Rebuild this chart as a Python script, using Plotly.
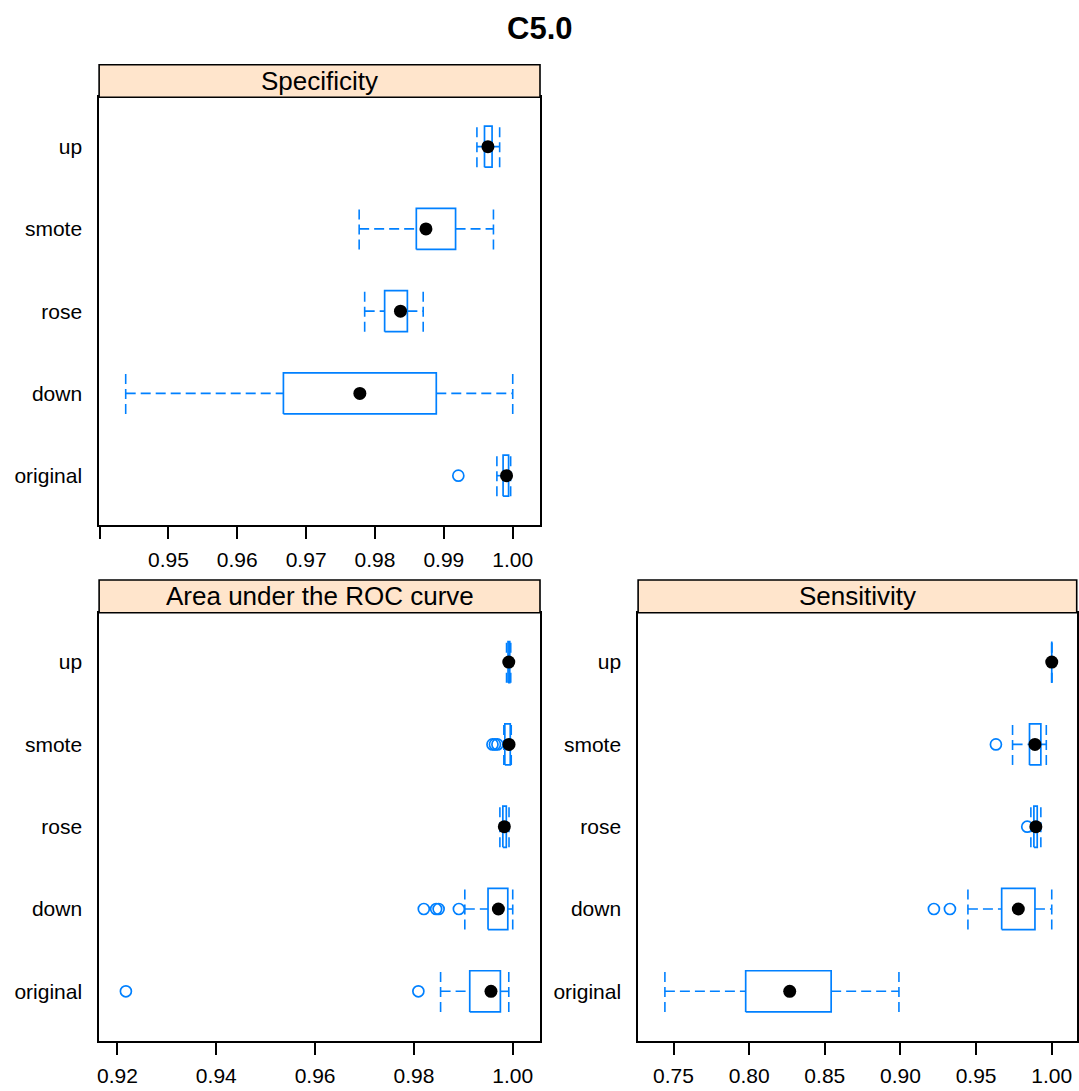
import plotly.graph_objects as go

# Resampling methods compared for the C5.0 model
methods = ["original", "down", "rose", "smote", "up"]

# Specificity: whisker ends, hinges, medians, outliers
spec_lo = [0.9977, 0.9438, 0.9785, 0.9777, 0.9948]
spec_q1 = [0.9986, 0.9667, 0.9814, 0.9860, 0.9959]
spec_med = [0.9991, 0.9778, 0.9837, 0.9874, 0.9964]
spec_q3 = [0.9994, 0.9889, 0.9847, 0.9917, 0.9970]
spec_hi = [0.9997, 1.0000, 0.9870, 0.9972, 0.9981]
spec_out = [[0.9921], [], [], [], []]

# Area under the ROC curve
roc_lo = [0.9854, 0.9903, 0.9974, 0.9982, 0.99875]
roc_q1 = [0.9913, 0.9950, 0.9980, 0.9984, 0.99905]
roc_med = [0.9956, 0.9971, 0.9983, 0.99925, 0.9992]
roc_q3 = [0.9975, 0.9990, 0.9987, 0.9995, 0.9994]
roc_hi = [0.9992, 1.0000, 0.99925, 0.9997, 0.9996]
roc_out = [[0.9217, 0.9809], [0.9820, 0.9845, 0.9850, 0.9891], [], [0.9959, 0.9964, 0.9969], []]

# Sensitivity
sens_lo = [0.7443, 0.9446, 0.9862, 0.9741, 1.0]
sens_q1 = [0.7977, 0.9669, 0.9882, 0.9853, 1.0]
sens_med = [0.8268, 0.9779, 0.9895, 0.9889, 1.0]
sens_q3 = [0.8542, 0.9889, 0.9904, 0.9928, 1.0]
sens_hi = [0.8990, 1.0000, 0.9928, 0.9964, 1.0]
sens_out = [[], [0.9221, 0.9327], [0.9838], [0.9631], []]

spec_ticks = [0.94, 0.95, 0.96, 0.97, 0.98, 0.99, 1.00]
spec_ticktext = ["", "0.95", "0.96", "0.97", "0.98", "0.99", "1.00"]
roc_ticks = [0.92, 0.94, 0.96, 0.98, 1.00]
roc_ticktext = ["0.92", "0.94", "0.96", "0.98", "1.00"]
sens_ticks = [0.75, 0.80, 0.85, 0.90, 0.95, 1.00]
sens_ticktext = ["0.75", "0.80", "0.85", "0.90", "0.95", "1.00"]

W, H = 1079, 1091
FONT = "Liberation Sans, Arial, Helvetica, sans-serif"
BLUE = "#0080ff"
HALF = 0.25  # half box height in category units


def px_x(v):
    return v / W


def px_y(v):
    return 1 - v / H


fig = go.Figure()


def add_panel(n, lo, q1, med, q3, hi, out):
    xa = "x" if n == 1 else f"x{n}"
    ya = "y" if n == 1 else f"y{n}"
    pos = list(range(1, len(methods) + 1))
    wx, wy, bx, by = [], [], [], []
    ox, oy = [], []
    for i, y in enumerate(pos):
        # whiskers and their end caps
        wx += [lo[i], q1[i], None, q3[i], hi[i], None,
               lo[i], lo[i], None, hi[i], hi[i], None]
        wy += [y, y, None, y, y, None,
               y - HALF, y + HALF, None, y - HALF, y + HALF, None]
        # box between the hinges
        bx += [q1[i], q3[i], q3[i], q1[i], q1[i], None]
        by += [y - HALF, y - HALF, y + HALF, y + HALF, y - HALF, None]
        for v in out[i]:
            ox.append(v)
            oy.append(y)
    fig.add_trace(go.Scatter(x=wx, y=wy, mode="lines", xaxis=xa, yaxis=ya,
                             line=dict(color=BLUE, width=1.6, dash="10px,5px"),
                             hoverinfo="skip", showlegend=False))
    fig.add_trace(go.Scatter(x=bx, y=by, mode="lines", xaxis=xa, yaxis=ya,
                             line=dict(color=BLUE, width=1.7),
                             hoverinfo="skip", showlegend=False))
    fig.add_trace(go.Scatter(x=ox, y=oy, mode="markers", xaxis=xa, yaxis=ya,
                             marker=dict(symbol="circle-open", size=11,
                                         color=BLUE, line=dict(width=1.7, color=BLUE)),
                             showlegend=False))
    fig.add_trace(go.Scatter(x=med, y=pos, mode="markers", xaxis=xa, yaxis=ya,
                             marker=dict(symbol="circle", size=13, color="black"),
                             showlegend=False))


add_panel(1, spec_lo, spec_q1, spec_med, spec_q3, spec_hi, spec_out)
add_panel(2, roc_lo, roc_q1, roc_med, roc_q3, roc_hi, roc_out)
add_panel(3, sens_lo, sens_q1, sens_med, sens_q3, sens_hi, sens_out)

# panel frames in pixels: (left, right, strip top, panel top, panel bottom)
panels = {
    1: (97.3, 539.0, 64.7, 97.3, 525.0),
    2: (97.3, 539.0, 580.0, 612.7, 1040.7),
    3: (637.3, 1076.7, 580.0, 612.7, 1040.7),
}
xranges = {1: [0.93994, 1.00396], 2: [0.91628, 1.00552], 3: [0.7266, 1.0165]}
xticks = {1: (spec_ticks, spec_ticktext), 2: (roc_ticks, roc_ticktext),
          3: (sens_ticks, sens_ticktext)}
strip_titles = {1: "Specificity", 2: "Area under the ROC curve", 3: "Sensitivity"}

layout_axes = {}
shapes = []
annotations = []
for n, (l, r, st, pt, pb) in panels.items():
    xk = "xaxis" if n == 1 else f"xaxis{n}"
    yk = "yaxis" if n == 1 else f"yaxis{n}"
    ya = "y" if n == 1 else f"y{n}"
    xa = "x" if n == 1 else f"x{n}"
    tv, tt = xticks[n]
    layout_axes[xk] = dict(
        domain=[px_x(l), px_x(r)], range=xranges[n], anchor=ya,
        tickvals=tv, ticktext=tt, ticks="outside", ticklen=12, tickwidth=1.6,
        tickcolor="black", showline=True, linewidth=1.6, linecolor="black",
        mirror=True, showgrid=False, zeroline=False, ticklabelstandoff=3,
        tickfont=dict(family=FONT, size=21, color="black"), fixedrange=True,
    )
    layout_axes[yk] = dict(
        domain=[px_y(pb), px_y(pt)], range=[0.4, 5.6], anchor=xa,
        tickvals=list(range(1, len(methods) + 1)), ticktext=methods,
        ticks="", showline=True, linewidth=1.6, linecolor="black", mirror=True,
        showgrid=False, zeroline=False, ticklabelstandoff=11,
        tickfont=dict(family=FONT, size=21, color="black"), fixedrange=True,
    )
    # strip above each panel
    shapes.append(dict(type="rect", xref="paper", yref="paper",
                       x0=px_x(l), x1=px_x(r), y0=px_y(pt), y1=px_y(st),
                       fillcolor="#ffe5cc", line=dict(color="black", width=1.6),
                       layer="above"))
    annotations.append(dict(text=strip_titles[n], xref="paper", yref="paper",
                            x=px_x((l + r) / 2), y=px_y((st + pt) / 2),
                            xanchor="center", yanchor="middle", showarrow=False,
                            font=dict(family=FONT, size=26, color="black")))

annotations.append(dict(text="<b>C5.0</b>", xref="paper", yref="paper",
                        x=px_x(538), y=px_y(28), xanchor="center", yanchor="middle",
                        showarrow=False, font=dict(family=FONT, size=31, color="black")))

fig.update_layout(
    width=W, height=H, margin=dict(l=0, r=0, t=0, b=0),
    paper_bgcolor="white", plot_bgcolor="white",
    shapes=shapes, annotations=annotations, showlegend=False,
    **layout_axes,
)

fig.write_html("out.html", config={"displayModeBar": False})
